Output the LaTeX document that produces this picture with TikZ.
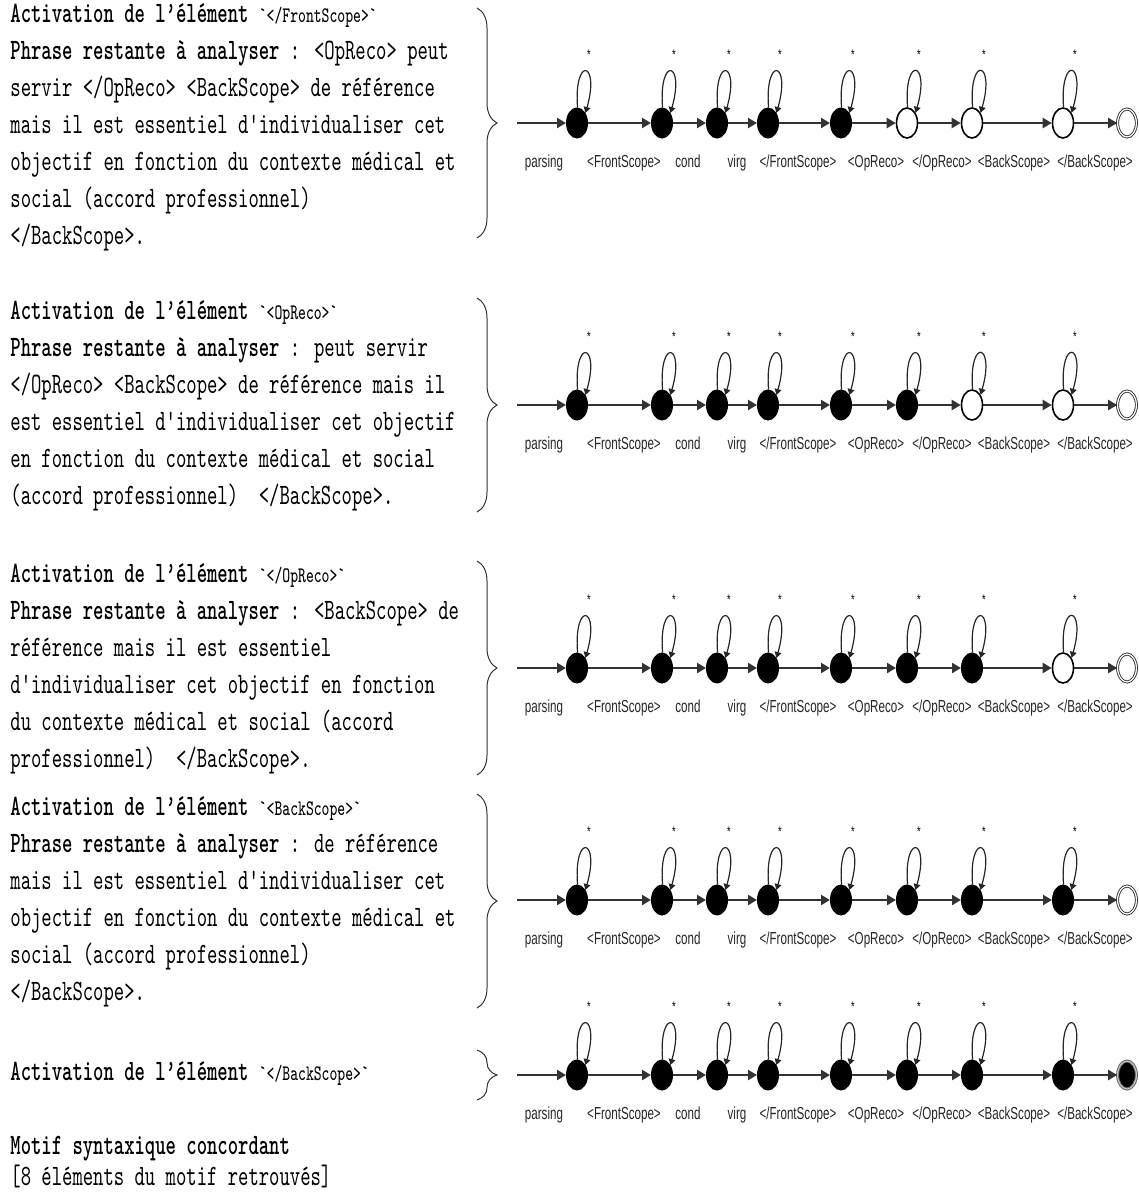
\documentclass[tikz,border=0pt]{standalone}
\usepackage{fontspec}
\usepackage{graphicx}
\usetikzlibrary{arrows.meta,decorations.pathreplacing,calc,shapes.geometric}
\newfontfamily\labfont[FakeStretch=0.667]{Liberation Sans}
\newcommand\myTall[1]{\scalebox{1}[1.5]{#1}}
\newcommand\myAct[1]{\myTall{{\bfseries Activation de l’élément} {\fontsize{7.4}{8}\selectfont\textasciigrave#1\textasciigrave}}}
\newcommand\myPhr{{\bfseries Phrase restante à analyser} :}
\tikzset{
  txt/.style={anchor=base west, inner sep=0pt, font=\ttfamily\fontsize{9.86}{12}\selectfont},
  lbl/.style={anchor=base, inner sep=0pt, font=\labfont\fontsize{8.7}{10}\selectfont, text=black!85},
  ast/.style={inner sep=0pt, font=\labfont\fontsize{7}{7}\selectfont},
  stnode/.style={ellipse, minimum width=10.5pt, minimum height=15pt, inner sep=0pt},
  full/.style={stnode, fill=black, draw=black, line width=0.5pt},
  empty/.style={stnode, fill=white, draw=black, line width=0.8pt},
  fin/.style={ellipse, minimum width=9.4pt, minimum height=14pt, inner sep=0pt, draw=black!80, line width=0.45pt, double=white, double distance=0.6pt},
  finfull/.style={ellipse, minimum width=9.4pt, minimum height=14pt, inner sep=0pt, fill=black, draw=black!60, line width=0.45pt, double=black!25, double distance=0.6pt},
  arr/.style={draw=black!80, line width=1.3pt, -{Triangle[length=4.5pt,width=5pt]}},
  lp/.style={draw=black!85, line width=0.6pt, -{Triangle[length=3pt,width=3.4pt]}},
  brc/.style={draw=black!80, line width=0.5pt, decorate, decoration={brace, amplitude=10pt}}
}
\begin{document}
\begin{tikzpicture}[x=0.5pt,y=-0.5pt]
\useasboundingbox (0,0) rectangle (1139,1200);

% ---------- automata ----------
\foreach \r/\y/\k in {1/123/5, 2/405/6, 3/668/7, 4/900/8, 5/1075/8} {
  \coordinate (s\r) at (517,\y);
  \foreach \i/\x in {1/577,2/662,3/717,4/768,5/841,6/907,7/972,8/1063} {
    \ifnum\i>\k
      \node[empty] (n\r-\i) at (\x,\y) {};
    \else
      \node[full] (n\r-\i) at (\x,\y) {};
    \fi
    \draw[lp] (n\r-\i.88) .. controls ($(n\r-\i.88)+(-4,-52)$) and ($(n\r-\i.50)+(15,-52)$) .. (n\r-\i.50);
    \node[ast] (a\r-\i) at ($(n\r-\i)+(12,-68)$) {*};
  }
  \ifnum\r=5
    \node[finfull] (n\r-9) at (1127,\y) {};
  \else
    \node[fin] (n\r-9) at (1127,\y) {};
  \fi
  \draw[arr] (s\r) -- (n\r-1);
  \foreach \a/\b in {1/2,2/3,3/4,4/5,5/6,6/7,7/8,8/9} {
    \draw[arr] (n\r-\a) -- (n\r-\b);
  }
  \node[lbl] (l\r-1) at (544,\y+44) {parsing};
  \node[lbl] (l\r-2) at (624,\y+44) {<FrontScope>};
  \node[lbl] (l\r-3) at (688,\y+44) {cond};
  \node[lbl] (l\r-4) at (737,\y+44) {virg};
  \node[lbl] (l\r-5) at (798,\y+44) {</FrontScope>};
  \node[lbl] (l\r-6) at (876,\y+44) {<OpReco>};
  \node[lbl] (l\r-7) at (942,\y+44) {</OpReco>};
  \node[lbl] (l\r-8) at (1014,\y+44) {<BackScope>};
  \node[lbl] (l\r-9) at (1095,\y+44) {</BackScope>};
}

% ---------- braces ----------
\draw[brc] (477,8) -- (477,238);
\draw[brc] (477,298) -- (477,512);
\draw[brc] (477,561) -- (477,775);
\draw[brc] (477,794) -- (477,1008);
\draw[brc] (477,1050) -- (477,1100);

% ---------- text block 1 ----------
\node[txt] (t1-1) at (10,22)  {\myAct{</FrontScope>}};
\node[txt] (t1-2) at (10,59)  {\myTall{\myPhr{} <OpReco> peut}};
\node[txt] (t1-3) at (10,96)  {\myTall{servir </OpReco> <BackScope> de référence}};
\node[txt] (t1-4) at (10,133) {\myTall{mais il est essentiel d'individualiser cet}};
\node[txt] (t1-5) at (10,170) {\myTall{objectif en fonction du contexte médical et}};
\node[txt] (t1-6) at (10,207) {\myTall{social (accord professionnel)}};
\node[txt] (t1-7) at (10,244) {\myTall{</BackScope>.}};

% ---------- text block 2 ----------
\node[txt] (t2-1) at (10,319) {\myAct{<OpReco>}};
\node[txt] (t2-2) at (10,356) {\myTall{\myPhr{} peut servir}};
\node[txt] (t2-3) at (10,393) {\myTall{</OpReco> <BackScope> de référence mais il}};
\node[txt] (t2-4) at (10,430) {\myTall{est essentiel d'individualiser cet objectif}};
\node[txt] (t2-5) at (10,467) {\myTall{en fonction du contexte médical et social}};
\node[txt] (t2-6) at (10,504) {\myTall{(accord professionnel)\ \ </BackScope>.}};

% ---------- text block 3 ----------
\node[txt] (t3-1) at (10,582) {\myAct{</OpReco>}};
\node[txt] (t3-2) at (10,619) {\myTall{\myPhr{} <BackScope> de}};
\node[txt] (t3-3) at (10,656) {\myTall{référence mais il est essentiel}};
\node[txt] (t3-4) at (10,693) {\myTall{d'individualiser cet objectif en fonction}};
\node[txt] (t3-5) at (10,730) {\myTall{du contexte médical et social (accord}};
\node[txt] (t3-6) at (10,767) {\myTall{professionnel)\ \ </BackScope>.}};

% ---------- text block 4 ----------
\node[txt] (t4-1) at (10,815) {\myAct{<BackScope>}};
\node[txt] (t4-2) at (10,852) {\myTall{\myPhr{} de référence}};
\node[txt] (t4-3) at (10,889) {\myTall{mais il est essentiel d'individualiser cet}};
\node[txt] (t4-4) at (10,926) {\myTall{objectif en fonction du contexte médical et}};
\node[txt] (t4-5) at (10,963) {\myTall{social (accord professionnel)}};
\node[txt] (t4-6) at (10,1000) {\myTall{</BackScope>.}};

% ---------- text block 5 ----------
\node[txt] (t5-1) at (10,1080) {\myAct{</BackScope>}};

% ---------- result ----------
\node[txt] (m1) at (10,1154) {\myTall{\bfseries Motif syntaxique concordant}};
\node[txt] (m2) at (10,1185) {\myTall{[8 éléments du motif retrouvés]}};
\end{tikzpicture}
\end{document}
